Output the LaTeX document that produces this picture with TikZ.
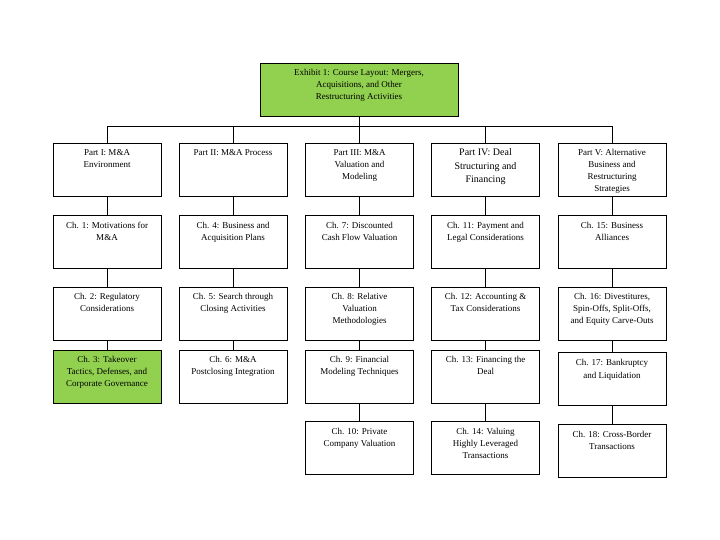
\documentclass[tikz,border=0pt]{standalone}
\usepackage{fontspec}
\setmainfont{Liberation Serif}
\usetikzlibrary{positioning}
\definecolor{leafgreen}{HTML}{92D050}
\newcommand{\boxlabel}[1]{\parbox[c][45pt][t]{106pt}{\centering\strut #1}}

\begin{document}
\begin{tikzpicture}[x=1pt,y=-1pt,font=\fontsize{9}{12}\selectfont,
    chapbox/.style={draw,rectangle,line width=0.8pt,minimum width=108pt,minimum height=53pt,inner sep=0pt},
    greenbox/.style={chapbox,fill=leafgreen},
    link/.style={line width=0.8pt}]
    \useasboundingbox (0,0) rectangle (720,540);
    \node[greenbox,minimum width=198pt,anchor=north] (top) at (359,63)
        {\parbox[c][45pt][t]{190pt}{\centering\strut Exhibit 1: Course Layout: Mergers,\\Acquisitions, and Other\\Restructuring Activities}};
    \coordinate (bus) at (359,126);% the horizontal bar under the title
    % parts
    \node[chapbox,anchor=north] (p1) at (107,143)   {\boxlabel{Part I: M\&A\\Environment}};
    \node[chapbox,anchor=north] (p2) at (233,143)   {\boxlabel{Part II: M\&A Process}};
    \node[chapbox,anchor=north] (p3) at (359.5,143) {\boxlabel{Part III: M\&A\\Valuation and\\Modeling}};
    \node[chapbox,anchor=north] (p4) at (485.5,143) {\boxlabel{\fontsize{10}{13.5}\selectfont Part IV: Deal\\Structuring and\\Financing}};
    \node[chapbox,anchor=north] (p5) at (612,143)   {\boxlabel{Part V: Alternative\\Business and\\Restructuring\\Strategies}};
    % chapters, column by column
    \node[chapbox,below=18.5pt of p1]  (c1)  {\boxlabel{Ch. 1: Motivations for\\M\&A}};
    \node[chapbox,below=17.5pt of c1]  (c2)  {\boxlabel{Ch. 2: Regulatory\\Considerations}};
    \node[greenbox,below=9.5pt of c2]  (c3)  {\boxlabel{Ch. 3: Takeover\\Tactics, Defenses, and\\Corporate Governance}};
    \node[chapbox,below=18.5pt of p2]  (c4)  {\boxlabel{Ch. 4: Business and\\Acquisition Plans}};
    \node[chapbox,below=17.5pt of c4]  (c5)  {\boxlabel{Ch. 5: Search through\\Closing Activities}};
    \node[chapbox,below=9.5pt of c5]   (c6)  {\boxlabel{Ch. 6: M\&A\\Postclosing Integration}};
    \node[chapbox,below=18.5pt of p3]  (c7)  {\boxlabel{Ch. 7: Discounted\\Cash Flow Valuation}};
    \node[chapbox,below=17.5pt of c7]  (c8)  {\boxlabel{Ch. 8: Relative\\Valuation\\Methodologies}};
    \node[chapbox,below=9.5pt of c8]   (c9)  {\boxlabel{Ch. 9: Financial\\Modeling Techniques}};
    \node[chapbox,below=17.5pt of c9]  (c10) {\boxlabel{Ch. 10: Private\\Company Valuation}};
    \node[chapbox,below=18.5pt of p4]  (c11) {\boxlabel{Ch. 11: Payment and\\Legal Considerations}};
    \node[chapbox,below=17.5pt of c11] (c12) {\boxlabel{Ch. 12: Accounting \&\\Tax Considerations}};
    \node[chapbox,below=9.5pt of c12]  (c13) {\boxlabel{Ch. 13: Financing the\\Deal}};
    \node[chapbox,below=17.5pt of c13] (c14) {\boxlabel{Ch. 14: Valuing\\Highly Leveraged\\Transactions}};
    \node[chapbox,below=18.5pt of p5]  (c15) {\boxlabel{Ch. 15: Business\\Alliances}};
    \node[chapbox,below=17.5pt of c15] (c16) {\boxlabel{Ch. 16: Divestitures,\\Spin-Offs, Split-Offs,\\and Equity Carve-Outs}};
    \node[chapbox,below=12pt of c16]   (c17) {\boxlabel{\vspace{1pt}Ch. 17: Bankruptcy\\and Liquidation}};
    \node[chapbox,below=18pt of c17]   (c18) {\boxlabel{Ch. 18: Cross-Border\\Transactions}};
    % title to parts
    \draw[link] (top.south) -- (bus);
    \draw[link] (p1.north |- bus) -- (p5.north |- bus);
    \draw[link] (p1.north |- bus) -- (p1.north);
    \draw[link] (p2.north |- bus) -- (p2.north);
    \draw[link] (p3.north |- bus) -- (p3.north);
    \draw[link] (p4.north |- bus) -- (p4.north);
    \draw[link] (p5.north |- bus) -- (p5.north);
    % parts to chapters
    \draw[link] (p1) -- (c1);  \draw[link] (c1) -- (c2);   \draw[link] (c2) -- (c3);
    \draw[link] (p2) -- (c4);  \draw[link] (c4) -- (c5);   \draw[link] (c5) -- (c6);
    \draw[link] (p3) -- (c7);  \draw[link] (c7) -- (c8);   \draw[link] (c8) -- (c9);   \draw[link] (c9) -- (c10);
    \draw[link] (p4) -- (c11); \draw[link] (c11) -- (c12); \draw[link] (c12) -- (c13); \draw[link] (c13) -- (c14);
    \draw[link] (p5) -- (c15); \draw[link] (c15) -- (c16); \draw[link] (c16) -- (c17); \draw[link] (c17) -- (c18);
\end{tikzpicture}
\end{document}
